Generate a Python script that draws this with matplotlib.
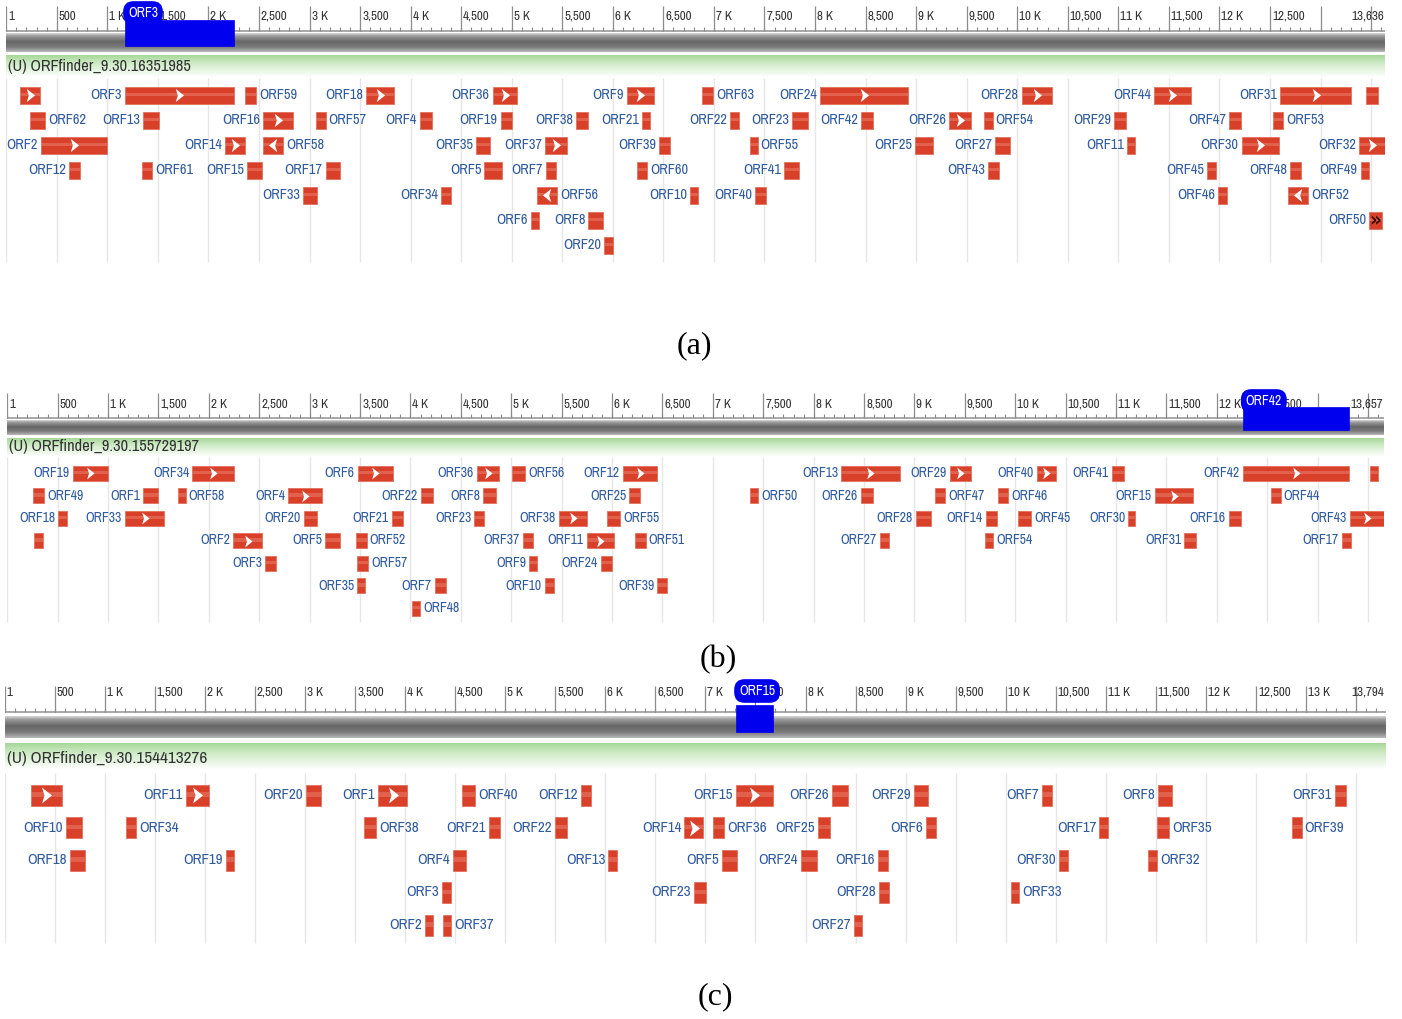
"""
ORFfinder graphic view — three sequences (a), (b), (c)
ruler + sequence bar + ORF track, drawn in bp coordinates
"""

import numpy as np
import matplotlib
matplotlib.use("Agg")
import matplotlib.pyplot as plt
import matplotlib.font_manager as fm
from matplotlib.colors import to_rgb
from matplotlib.patches import Rectangle
from matplotlib.path import Path
from matplotlib.transforms import offset_copy

# ── data: (a) ORFfinder_9.30.16351985 ─────────────────────────────────
A_LENGTH = 13636
A_TITLE = "(U) ORFfinder_9.30.16351985"
A_HIGHLIGHT = "ORF3"
A_MINUS = ["ORF58", "ORF56", "ORF52"]
A_PARTIAL = ["ORF50"]
A_NAMES = [
    ["", "ORF3", "ORF59", "ORF18", "ORF36", "ORF9", "ORF63", "ORF24", "ORF28", "ORF44", "ORF31", ""],
    ["ORF62", "ORF13", "ORF16", "ORF57", "ORF4", "ORF19", "ORF38", "ORF21", "ORF22", "ORF23", "ORF42",
     "ORF26", "ORF54", "ORF29", "ORF47", "ORF53"],
    ["ORF2", "ORF14", "ORF58", "ORF35", "ORF37", "ORF39", "ORF55", "ORF25", "ORF27", "ORF11", "ORF30", "ORF32"],
    ["ORF12", "ORF61", "ORF15", "ORF17", "ORF5", "ORF7", "ORF60", "ORF41", "ORF43", "ORF45", "ORF48", "ORF49"],
    ["ORF33", "ORF34", "ORF56", "ORF10", "ORF40", "ORF46", "ORF52"],
    ["ORF6", "ORF8", "ORF50"],
    ["ORF20"],
]
A_START = [
    [137, 1175, 2363, 3559, 4812, 6139, 6880, 8050, 10045, 11356, 12600, 13451],
    [235, 1358, 2543, 3064, 4093, 4891, 5636, 6286, 7159, 7769, 8455, 9328, 9675, 10956, 12095, 12527],
    [344, 2164, 2543, 4647, 5332, 6460, 7357, 8994, 9780, 11083, 12221, 13380],
    [626, 1346, 2385, 3160, 4729, 5339, 6236, 7696, 9710, 11880, 12698, 13396],
    [2939, 4301, 5253, 6764, 7406, 11990, 12679],
    [5188, 5758, 13484],
    [5913],
]
A_END = [
    [334, 2253, 2471, 3836, 5050, 6407, 6994, 8923, 10341, 11716, 13306, 13573],
    [384, 1508, 2840, 3160, 4215, 5003, 5752, 6368, 7245, 7934, 8577, 9540, 9758, 11078, 12211, 12633],
    [994, 2362, 2741, 4785, 5550, 6566, 7433, 9165, 9929, 11166, 12592, 13636],
    [730, 1445, 2533, 3302, 4901, 5436, 6341, 7845, 9819, 11966, 12804, 13480],
    [3071, 4397, 5446, 6846, 7512, 12072, 12877],
    [5270, 5900, 13607],
    [6000],
]
A_SIDE = [
    ["", "L", "R", "L", "L", "L", "R", "L", "L", "L", "L", ""],
    ["R", "L", "L", "R", "L", "L", "L", "L", "L", "L", "L", "L", "R", "L", "L", "R"],
    ["L", "L", "R", "L", "L", "L", "R", "L", "L", "L", "L", "L"],
    ["L", "R", "L", "L", "L", "L", "R", "L", "L", "L", "L", "L"],
    ["L", "L", "R", "L", "L", "L", "R"],
    ["L", "L", "L"],
    ["L"],
]

# ── data: (b) ORFfinder_9.30.155729197 ────────────────────────────────
B_LENGTH = 13657
B_TITLE = "(U) ORFfinder_9.30.155729197"
B_HIGHLIGHT = "ORF42"
B_MINUS = []
B_PARTIAL = []
B_NAMES = [
    ["ORF19", "ORF34", "ORF6", "ORF36", "ORF56", "ORF12", "ORF13", "ORF29", "ORF40", "ORF41", "ORF42", ""],
    ["ORF49", "ORF1", "ORF58", "ORF4", "ORF22", "ORF8", "ORF25", "ORF50", "ORF26", "ORF47", "ORF46",
     "ORF15", "ORF44"],
    ["ORF18", "ORF33", "ORF20", "ORF21", "ORF23", "ORF38", "ORF55", "ORF28", "ORF14", "ORF45", "ORF30",
     "ORF16", "ORF43"],
    ["", "ORF2", "ORF5", "ORF52", "ORF37", "ORF11", "ORF51", "ORF27", "ORF54", "ORF31", "ORF17"],
    ["ORF3", "ORF57", "ORF9", "ORF24"],
    ["ORF35", "ORF7", "ORF10", "ORF39"],
    ["ORF48"],
]
B_START = [
    [649, 1836, 3476, 4657, 5004, 6105, 8271, 9352, 10212, 10955, 12256, 13519],
    [252, 1349, 1690, 2788, 4101, 4722, 6171, 7368, 8469, 9203, 9831, 11386, 12537],
    [506, 1168, 2943, 3813, 4633, 5473, 5946, 9015, 9706, 10024, 11121, 12120, 13321],
    [265, 2242, 3152, 3459, 5113, 5748, 6227, 8658, 9699, 11677, 13238],
    [2556, 3472, 5178, 5890],
    [3472, 4243, 5334, 6449],
    [4018],
]
B_END = [
    [996, 2249, 3829, 4881, 5136, 6443, 8856, 9560, 10401, 11081, 13314, 13602],
    [367, 1498, 1770, 3119, 4220, 4848, 6277, 7450, 8591, 9302, 9931, 11760, 12633],
    [589, 1555, 3069, 3929, 4729, 5748, 6078, 9163, 9816, 10157, 11191, 12239, 13657],
    [351, 2530, 3301, 3565, 5218, 6019, 6333, 8747, 9782, 11790, 13330],
    [2666, 3581, 5258, 5996],
    [3549, 4349, 5424, 6542],
    [4094],
]
B_SIDE = [
    ["L", "L", "L", "L", "R", "L", "L", "L", "L", "L", "L", ""],
    ["R", "L", "R", "L", "L", "L", "L", "R", "L", "R", "R", "L", "R"],
    ["L", "L", "L", "L", "L", "L", "R", "L", "L", "R", "L", "L", "L"],
    ["", "L", "L", "R", "L", "L", "R", "L", "R", "L", "L"],
    ["L", "R", "L", "L"],
    ["L", "L", "L", "L"],
    ["R"],
]

# ── data: (c) ORFfinder_9.30.154413276 ────────────────────────────────
C_LENGTH = 13794
C_TITLE = "(U) ORFfinder_9.30.154413276"
C_HIGHLIGHT = "ORF15"
C_MINUS = []
C_PARTIAL = []
C_NAMES = [
    ["", "ORF11", "ORF20", "ORF1", "ORF40", "ORF12", "ORF15", "ORF26", "ORF29", "ORF7", "ORF8", "ORF31"],
    ["ORF10", "ORF34", "ORF38", "ORF21", "ORF22", "ORF14", "ORF36", "ORF25", "ORF6", "ORF17", "ORF35", "ORF39"],
    ["ORF18", "ORF19", "ORF4", "ORF13", "ORF5", "ORF24", "ORF16", "ORF30", "ORF32"],
    ["ORF3", "ORF23", "ORF28", "ORF33"],
    ["ORF2", "ORF37", "ORF27"],
]
C_START = [
    [260, 1808, 3007, 3732, 4568, 5754, 7306, 8268, 9087, 10366, 11518, 13290],
    [612, 1209, 3592, 4838, 5498, 6789, 7079, 8128, 9204, 10935, 11514, 12857],
    [652, 2211, 4482, 6030, 7169, 7952, 8721, 10535, 11419],
    [4365, 6889, 8734, 10053],
    [4199, 4376, 8487],
]
C_END = [
    [569, 2044, 3157, 4022, 4698, 5854, 7672, 8428, 9221, 10460, 11658, 13397],
    [769, 1312, 3709, 4948, 5614, 6979, 7189, 8245, 9304, 11019, 11634, 12957],
    [802, 2291, 4608, 6114, 7319, 8118, 8821, 10619, 11515],
    [4455, 7006, 8834, 10136],
    [4276, 4456, 8567],
]
C_SIDE = [
    ["", "L", "L", "L", "R", "L", "L", "L", "L", "L", "L", "L"],
    ["L", "R", "R", "L", "L", "L", "R", "L", "L", "L", "R", "R"],
    ["L", "L", "L", "L", "L", "L", "L", "L", "R"],
    ["L", "L", "L", "R"],
    ["L", "R", "L"],
]

# ── style / layout (pixels, relative to panel top) ─────────────────────
W, H = 1402, 1019
RED = "#d8402a"
LABEL_COLOR = "#2f5a9c"
TEXT_COLOR = "#333333"
BLUE = "#0000ee"
ARROW_MIN_BP = 180

# condensed face if one is installed, otherwise Liberation Sans a bit smaller
_narrow = [f.name for f in fm.fontManager.ttflist if "Narrow" in f.name]
if _narrow:
    SANS, FS = _narrow[0], 1.15
else:
    SANS, FS = "Liberation Sans", 1.0
SERIF = "Liberation Serif"

LAYOUT_A = dict(box=(6.2, 0, 1378.6, 265), label_y=16, tick=(6, 31), bar=(33, 52), green=(55, 77),
                title_y=66, row0=95, dy=25, box_h=17, grid=(78, 262), hl=(20, 46), tab_y=13,
                fs_label=9.0, fs_title=10.3, chev=9.5, caption=(694, 346))
LAYOUT_B = dict(box=(7.3, 385, 1376.6, 240), label_y=19, tick=(8, 33), bar=(35, 50), green=(53, 72),
                title_y=62, row0=88, dy=22.5, box_h=15, grid=(72, 237), hl=(22, 45), tab_y=16,
                fs_label=8.6, fs_title=10.3, chev=8.5, caption=(718, 660))
LAYOUT_C = dict(box=(4.7, 670, 1380.8, 275), label_y=22, tick=(16, 42), bar=(46, 68), green=(73, 100),
                title_y=88, row0=125, dy=32.5, box_h=21, grid=(103, 273), hl=(35, 62), tab_y=21,
                fs_label=9.4, fs_title=10.8, chev=11.5, caption=(715, 997))

GRAY_STOPS = [(0.0, "#d6d6d6"), (0.15, "#9a9a9a"), (0.45, "#666666"), (0.75, "#7c7c7c"), (1.0, "#b8b8b8")]
GREEN_STOPS = [(0.0, "#a6d898"), (0.35, "#cdeac4"), (1.0, "#ffffff")]

CHEV_R = Path([(-0.45, 0.8), (0.55, 0.0), (-0.45, -0.8), (-0.2, 0.0), (-0.45, 0.8)],
              [Path.MOVETO, Path.LINETO, Path.LINETO, Path.LINETO, Path.CLOSEPOLY])
CHEV_L = Path(CHEV_R.vertices * [-1, 1], CHEV_R.codes)


def vgradient(stops, n=48):
    pos = np.linspace(0, 1, n)
    p = [s for s, _ in stops]
    cols = np.array([to_rgb(c) for _, c in stops])
    rgb = np.stack([np.interp(pos, p, cols[:, i]) for i in range(3)], axis=1)
    return rgb[:, None, :]


def tick_label(v):
    if v == 0:
        return "1"
    if v % 1000 == 0:
        return f"{v // 1000} K"
    return f"{v:,}"


def draw_panel(fig, length, title, names, starts, ends, sides, minus, partial, highlight, lay):
    left, top, width, height = lay["box"]
    ax = fig.add_axes([left / W, 1 - (top + height) / H, width / W, height / H])
    ax.axis("off")

    shift = lambda dx: offset_copy(ax.transData, fig=fig, x=dx, y=0, units="dots")
    fs_label = lay["fs_label"] * FS

    # 배경 grid
    majors = np.arange(0, length, 500)
    ax.vlines(majors, lay["grid"][0], lay["grid"][1], color="#e6e6e6", lw=1, zorder=0)

    # ruler
    t0, tb = lay["tick"]
    ax.hlines(tb, 0, length, color="#9a9a9a", lw=1.2, zorder=1)
    minors = np.arange(0, length, 100)
    ax.vlines(minors, tb - 4, tb, color="#8c8c8c", lw=0.8, zorder=1)
    ax.vlines(majors, t0, tb, color="#8c8c8c", lw=0.9, zorder=1)
    for v in majors:
        if v > length - 700:
            continue
        ax.text(v, lay["label_y"], tick_label(int(v)), transform=shift(2), ha="left", va="center",
                fontsize=8.2 * FS, family=SANS, color=TEXT_COLOR, zorder=2)
    ax.text(length, lay["label_y"], f"{length:,}", transform=shift(-1), ha="right", va="center",
            fontsize=8.2 * FS, family=SANS, color=TEXT_COLOR, zorder=2)

    # sequence bar + track title
    ax.imshow(vgradient(GRAY_STOPS), extent=(0, length, lay["bar"][1], lay["bar"][0]),
              aspect="auto", interpolation="bilinear", zorder=1)
    ax.imshow(vgradient(GREEN_STOPS), extent=(0, length, lay["green"][1], lay["green"][0]),
              aspect="auto", interpolation="bilinear", zorder=1)
    ax.text(0, lay["title_y"], title, transform=shift(2), ha="left", va="center",
            fontsize=lay["fs_title"] * FS, family=SANS, color=TEXT_COLOR, zorder=2)

    # ORF features
    h = lay["box_h"]
    for r, row in enumerate(names):
        y = lay["row0"] + r * lay["dy"]
        for name, s, e, side in zip(row, starts[r], ends[r], sides[r]):
            ax.add_patch(Rectangle((s, y - h / 2), e - s, h, fc=RED, ec="#e2705c", lw=0.6, zorder=3))
            ax.add_patch(Rectangle((s, y - h * 0.14), e - s, h * 0.22, fc="#f08a76", ec="none",
                                   alpha=0.45, zorder=3.5))
            mid = (s + e) / 2
            if name in partial:
                ax.text(mid, y, "»", ha="center", va="center", fontsize=fs_label + 3,
                        color="#3a0a05", fontweight="bold", zorder=5)
            elif e - s >= ARROW_MIN_BP:
                ax.plot(mid, y, marker=CHEV_L if name in minus else CHEV_R, ms=lay["chev"],
                        color="white", mec="none", zorder=5)
            if side == "L":
                ax.text(s, y, name, transform=shift(-3), ha="right", va="center",
                        fontsize=fs_label, family=SANS, color=LABEL_COLOR, zorder=4)
            elif side == "R":
                ax.text(e, y, name, transform=shift(3), ha="left", va="center",
                        fontsize=fs_label, family=SANS, color=LABEL_COLOR, zorder=4)

    # 선택된 ORF (파란 표시)
    for r, row in enumerate(names):
        if highlight in row:
            i = row.index(highlight)
            s, e = starts[r][i], ends[r][i]
            ax.add_patch(Rectangle((s, lay["hl"][0]), e - s, lay["hl"][1] - lay["hl"][0],
                                   fc=BLUE, ec=BLUE, lw=0.5, zorder=6))
            ax.text(s, lay["tab_y"], highlight, transform=shift(3), ha="left", va="center",
                    fontsize=8.6 * FS, family=SANS, color="white", zorder=7,
                    bbox=dict(boxstyle="round,pad=0.3,rounding_size=0.7", fc=BLUE, ec=BLUE))

    ax.set_xlim(0, length)
    ax.set_ylim(height, 0)
    return ax


def main():
    fig = plt.figure(figsize=(W / 100, H / 100), dpi=100)
    fig.patch.set_facecolor("white")

    panels = [
        (A_LENGTH, A_TITLE, A_NAMES, A_START, A_END, A_SIDE, A_MINUS, A_PARTIAL, A_HIGHLIGHT, LAYOUT_A, "(a)"),
        (B_LENGTH, B_TITLE, B_NAMES, B_START, B_END, B_SIDE, B_MINUS, B_PARTIAL, B_HIGHLIGHT, LAYOUT_B, "(b)"),
        (C_LENGTH, C_TITLE, C_NAMES, C_START, C_END, C_SIDE, C_MINUS, C_PARTIAL, C_HIGHLIGHT, LAYOUT_C, "(c)"),
    ]
    for *args, lay, caption in panels:
        draw_panel(fig, *args, lay)
        cx, cy = lay["caption"]
        fig.text(cx / W, 1 - cy / H, caption, ha="center", va="center", fontsize=23,
                 family=SERIF, color="black")

    fig.savefig("out.png", dpi=100)


if __name__ == "__main__":
    main()
